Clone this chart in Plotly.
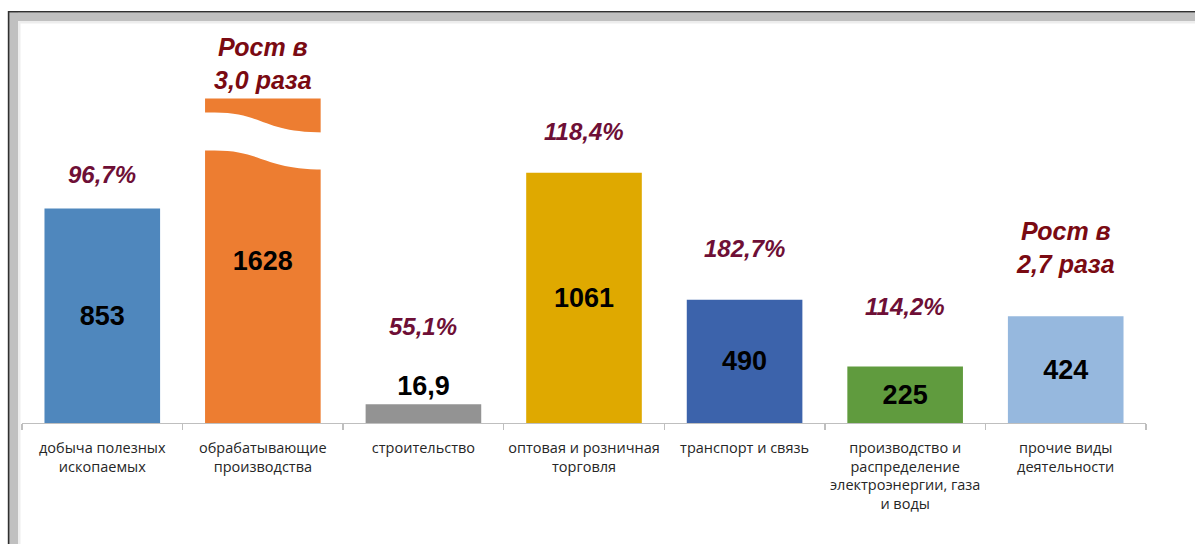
import plotly.graph_objects as go

# ---- data ----
categories = [
    "добыча полезных<br>ископаемых",
    "обрабатывающие<br>производства",
    "строительство",
    "оптовая и розничная<br>торговля",
    "транспорт и связь",
    "производство и<br>распределение<br>электроэнергии, газа<br>и воды",
    "прочие виды<br>деятельности",
]
value_labels = ["853", "1628", "16,9", "1061", "490", "225", "424"]
# heights as drawn in the source chart (its scale is not strictly proportional; bar 2 is broken)
bar_heights = [853, 1290, 75, 995, 490, 225, 424]
growth_labels = ["96,7%", "Рост в<br>3,0 раза", "55,1%", "118,4%", "182,7%", "114,2%", "Рост в<br>2,7 раза"]

# ---- styles ----
bar_colors = ["#4F87BD", "#ED7D31", "#939393", "#DFA900", "#3C63AB", "#609B3E", "#96B8DE"]
growth_shift = [34, 35, 78, 41, 51, 60, 69]  # px above bar top (text centre)
growth_colors = ["#6E0F36", "#7A0A12", "#6E0F36", "#6E0F36", "#6E0F36", "#6E0F36", "#7A0A12"]
growth_sizes = [24, 25, 24, 24, 24, 24, 25]
text_pos = ["inside", "inside", "outside", "inside", "inside", "inside", "inside"]

W, H = 1195, 544
L, R, T, B = 22, 49, 19, 121
PW, PH = W - L - R, H - T - B
YMAX = 1606
NUM = "Liberation Sans, Arial, sans-serif"

x = list(range(len(categories)))

fig = go.Figure()
fig.add_trace(go.Bar(
    x=x, y=bar_heights, width=0.72,
    marker=dict(color=bar_colors, line=dict(width=0)),
    text=value_labels, textposition=text_pos, insidetextanchor="middle",
    constraintext="none", cliponaxis=False,
    textfont=dict(family=NUM, size=27, color="#000000", weight="bold"),
    hoverinfo="skip",
))

for i, (lab, h) in enumerate(zip(growth_labels, bar_heights)):
    fig.add_annotation(
        x=i, y=h, yshift=growth_shift[i], text=lab, showarrow=False,
        xanchor="center", yanchor="middle",
        font=dict(family=NUM, size=growth_sizes[i], color=growth_colors[i],
                  weight="bold", style="italic"),
    )

# broken-bar white wave on the second bar
bi = 1
top = bar_heights[bi]
x0, x1 = bi - 0.38, bi + 0.38
xm = bi
u0, u1 = top - 56, top - 135
l0, l1 = top - 207, top - 282
path = (f"M {x0},{u0} L {bi-0.3},{u0} C {xm},{u0} {xm},{u1} {x1},{u1} "
        f"L {x1},{l1} C {xm},{l1} {xm},{l0} {bi-0.3},{l0} L {x0},{l0} Z")
fig.add_shape(type="path", path=path, xref="x", yref="y",
              fillcolor="white", line=dict(width=0), layer="above")

# frame (pixel -> paper helpers)
def px(v):
    return (v - L) / PW

def py(v):
    return (H - B - v) / PH

frame = [
    dict(x0=px(18), x1=px(1195), y0=py(21), y1=py(23.5), fill="#EDEDED"),
    dict(x0=px(18), x1=px(20.5), y0=py(21), y1=py(544), fill="#EDEDED"),
    dict(x0=px(9), x1=px(1195), y0=py(12.5), y1=py(21), fill="#C0C0C0"),
    dict(x0=px(9), x1=px(18), y0=py(12.5), y1=py(544), fill="#C0C0C0"),
]
for f in frame:
    fig.add_shape(type="rect", xref="paper", yref="paper",
                  x0=f["x0"], x1=f["x1"], y0=f["y0"], y1=f["y1"],
                  fillcolor=f["fill"], line=dict(width=0), layer="above")
fig.add_shape(type="line", xref="paper", yref="paper",
              x0=px(8), x1=px(1195), y0=py(11.8), y1=py(11.8),
              line=dict(color="#303030", width=1.6), layer="above")
fig.add_shape(type="line", xref="paper", yref="paper",
              x0=px(8.6), x1=px(8.6), y0=py(11), y1=py(544),
              line=dict(color="#303030", width=1.6), layer="above")

fig.update_layout(
    width=W, height=H,
    margin=dict(l=L, r=R, t=T, b=B, pad=0, autoexpand=False),
    plot_bgcolor="white", paper_bgcolor="white",
    showlegend=False,
    xaxis=dict(
        range=[-0.5, len(categories) - 0.5],
        tickvals=x, ticktext=categories, ticks="", ticklen=0,
        tickangle=0, automargin=False,
        ticklabelstandoff=11,
        tickfont=dict(family="Open Sans, DejaVu Sans, sans-serif", size=14.5, color="#262626"),
        showline=True, linecolor="#BFBFBF", linewidth=1.3,
        showgrid=False, zeroline=False,
        minor=dict(tickvals=[i - 0.5 for i in range(len(categories) + 1)],
                   ticks="outside", ticklen=6, tickcolor="#BFBFBF", tickwidth=1.3, showgrid=False),
    ),
    yaxis=dict(range=[0, YMAX], visible=False, showgrid=False, zeroline=False, automargin=False),
)

fig.write_html("out.html", config={"displayModeBar": False, "staticPlot": True},
               post_script="document.body.style.margin='0';document.body.style.overflow='hidden';")
